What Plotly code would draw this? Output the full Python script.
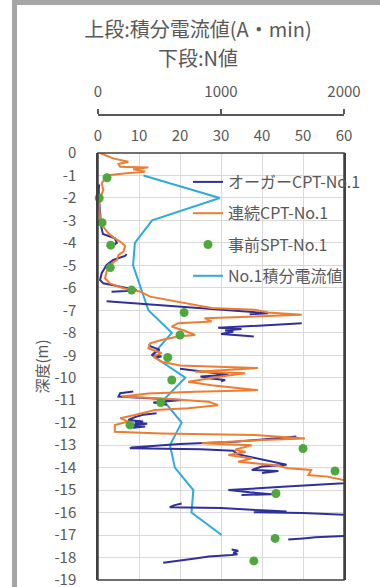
import plotly.graph_objects as go

# ---- data ----
# オーガーCPT-No.1 : depth (m) and N value ; None = gap in the record
auger_depth = [-1.40, -1.60, -2.00, -2.30, -2.90, -3.30, -3.60, -3.80, -4.00, -4.16, None,
               -4.50, -4.58, -4.76, -4.98, -5.35, -5.65, -5.80, -5.94, -6.09, -6.14, -6.17, None,
               -6.60, -6.83, -6.98, -7.13, -7.17, None,
               -7.58, -7.70, -7.78, -7.83, -7.90, -7.95, -8.05, -8.12, -8.17, None,
               -8.50, -8.60, -8.75, -8.84, -8.99, -9.06, -9.10, None,
               -9.60, -9.65, -9.75, -9.87, -9.95, -10.02, -10.10, -10.16, None,
               -10.61, -10.69, -10.84, -10.92, -10.99, -11.10, -11.20, None,
               -11.58, -11.65, -11.75, -11.88, -11.95, -12.00, -12.05, -12.10, -12.17, -12.22, None,
               -12.62, -12.75, -12.85, -12.95, -13.05, -13.10, -13.14, -13.18, -13.25, -13.40,
               -13.56, -13.70, -13.87, -13.95, -14.10, -14.15, -14.24, None,
               -14.55, -14.70, -14.85, -15.00, -15.10, -15.18, -15.22, None,
               -15.60, -15.68, -15.76, -15.80, -15.90, -15.95, -15.98, -16.02, -16.10, -16.20, None,
               -16.95, -17.03, -17.10, -17.15, -17.20, None,
               -17.64, -17.70, -17.78, -17.85, -17.89, -17.95, -18.04, -18.15, -18.23]
auger_n = [0.3, 0.2, 0.2, 0.3, 0.5, 0.8, 1.2, 4.1, 4.6, 3.3, None,
           7.0, 6.6, 3.7, 2.1, 0.9, 0.5, 1.3, 5.4, 9.4, 7.0, 3.3, None,
           2.1, 19.5, 31.8, 41.5, 37.0, None,
           49.7, 36.0, 29.3, 35.0, 31.0, 33.0, 30.0, 35.0, 38.0, None,
           12.5, 12.7, 15.0, 14.3, 13.1, 15.5, 14.0, None,
           20.0, 22.0, 27.0, 31.8, 25.0, 27.0, 31.0, 30.0, None,
           8.6, 5.4, 5.0, 11.9, 20.4, 13.5, 16.8, None,
           14.3, 11.0, 9.0, 7.4, 11.0, 9.0, 12.0, 8.0, 11.5, 8.5, None,
           48.4, 40.0, 33.4, 20.0, 10.0, 8.2, 7.8, 25.0, 33.0, 34.0,
           38.0, 42.0, 46.0, 40.0, 37.5, 44.0, 40.0, None,
           65.0, 59.8, 45.0, 31.8, 37.0, 42.4, 35.0, None,
           20.4, 18.5, 17.5, 30.0, 40.0, 46.0, 38.0, 50.0, 60.0, 70.0, None,
           70.0, 59.8, 53.0, 50.0, 46.4, None,
           32.6, 34.2, 33.0, 34.0, 32.6, 27.0, 23.7, 19.0, 15.9]

# 連続CPT-No.1
cont_depth = [0.0, -0.10, -0.24, -0.39, -0.49, -0.61, -0.64, -0.72, -0.83, -0.90, -0.98,
              -1.13, -1.35, -1.64, -2.02, -2.39, -2.90, -3.28, -3.57, -3.80, -3.94, -4.13,
              -4.39, -4.53, -4.76, -4.98, -5.28, -5.57, -5.80, -6.02, -6.16, -6.39, -6.53,
              -6.68, -6.90, -6.98, -7.10, -7.20, -7.27, -7.35, -7.50, -7.57, -7.73, -7.90,
              -8.10, -8.17, -8.32, -8.47, -8.69, -8.90, -9.06, -9.29, -9.45, -9.50, -9.57,
              -9.73, -9.80, -9.95, -10.18, -10.33, -10.55, -10.62, -10.70, -10.84, -10.92,
              -11.07, -11.22, -11.36, -11.44, -11.66, -11.80, -11.95, -12.10, -12.40, -12.48,
              -12.55, -12.70, -12.77, -12.92, -13.00, -13.20, -13.30, -13.44, -13.59, -13.74,
              -13.90, -13.96, -14.03, -14.10, -14.33, -14.40, -14.55, -14.65]
cont_n = [0.5, 2.0, 3.7, 7.4, 5.0, 5.4, 12.3, 8.6, 11.5, 7.0, 2.9,
          1.7, 0.9, 1.3, 0.5, 0.3, 0.5, 1.3, 2.5, 4.1, 5.4, 6.6,
          6.2, 5.0, 4.6, 2.9, 2.1, 1.7, 2.9, 6.2, 10.2, 12.7, 16.8,
          20.4, 27.7, 38.3, 41.5, 49.7, 37.5, 26.0, 27.7, 19.5, 18.0, 21.0,
          23.7, 19.5, 15.5, 12.7, 12.3, 15.5, 13.5, 15.5, 20.0, 30.0, 39.0,
          23.7, 35.9, 30.0, 22.0, 27.7, 39.0, 23.7, 12.3, 5.8, 15.5,
          27.0, 29.3, 22.0, 13.9, 9.0, 5.4, 7.4, 4.1, 4.1, 15.5,
          38.3, 50.5, 40.0, 25.3, 37.5, 33.4, 36.0, 31.8, 37.5, 34.2,
          44.0, 44.8, 46.4, 52.0, 51.3, 56.0, 59.8, 63.0]

# 事前SPT-No.1
spt_depth = [-1.1, -2.0, -3.1, -4.1, -5.1, -6.1, -7.1, -8.1, -9.1, -10.1, -11.1, -12.1,
             -13.15, -14.15, -15.15, -17.15, -18.15]
spt_n = [2.2, 0.3, 1.0, 3.1, 3.0, 8.2, 21.0, 20.0, 17.0, 18.0, 15.3, 7.8,
         50.0, 57.8, 43.4, 43.2, 38.0]

# No.1積分電流値 (A・min)
cur_depth = [-1, -2, -3, -4, -5, -6, -7, -8, -9, -10, -11, -12, -13, -14, -15, -16, -17]
cur_val = [370, 990, 440, 300, 285, 350, 410, 600, 440, 710, 530, 680, 585, 625, 775, 760, 1005]

y_ticks = list(range(0, -20, -1))
y_labels = [str(v) for v in y_ticks]
n_ticks = [0, 10, 20, 30, 40, 50, 60]
cur_ticks = [0, 1000, 2000]

title_line1 = "上段:積分電流値(A・min)"
title_line2 = "下段:N値"

FONT = "Noto Sans CJK JP, Noto Sans, sans-serif"
GRAY = "#595959"

fig = go.Figure()
fig.add_trace(go.Scatter(x=auger_n, y=auger_depth, mode="lines", name="オーガーCPT-No.1",
                         line=dict(color="#30309a", width=2), xaxis="x2", legendgroup="a"))
fig.add_trace(go.Scatter(x=cont_n, y=cont_depth, mode="lines", name="連続CPT-No.1",
                         line=dict(color="#ed7d31", width=2), xaxis="x2", legendgroup="b"))
fig.add_trace(go.Scatter(x=spt_n, y=spt_depth, mode="markers", name="事前SPT-No.1",
                         marker=dict(color="#4fa83d", size=9), xaxis="x2", legendgroup="c",
                         cliponaxis=False))
fig.add_trace(go.Scatter(x=cur_val, y=cur_depth, mode="lines", name="No.1積分電流値",
                         line=dict(color="#2eaadc", width=2), xaxis="x", legendgroup="d"))

ydom_top = (580 - 153) / 560
cur_axis_pos = (580 - 115) / 560
fig.update_layout(
    width=380, height=587,
    margin=dict(l=98, r=36, t=20, b=7, pad=0, autoexpand=False),
    paper_bgcolor="white", plot_bgcolor="white",
    font=dict(family=FONT, color=GRAY, size=15),
    title=dict(text=title_line1, x=198 / 380, xanchor="center",
               xref="container", yref="container", y=1 - 30 / 587, yanchor="middle",
               font=dict(size=20, color=GRAY, family=FONT)),
    showlegend=True,
    legend=dict(x=(188 - 98) / 246, xanchor="left", y=(580 - 165) / 560, yanchor="top",
                bgcolor="rgba(0,0,0,0)", font=dict(size=16, color=GRAY, family=FONT),
                tracegroupgap=7.5, itemwidth=30),
    # upper scale: integrated current (A・min)
    xaxis=dict(range=[0, 2000], side="top", anchor="free", position=cur_axis_pos,
               tickvals=cur_ticks, showgrid=False, automargin=False,
               zeroline=False, showline=True, linecolor=GRAY, linewidth=1.5,
               ticks="outside", ticklen=5, tickcolor=GRAY, tickwidth=1.5,
               ticklabelstandoff=6, tickfont=dict(size=15, color=GRAY)),
    # lower scale: N value
    xaxis2=dict(range=[0, 60], side="top", overlaying="x", anchor="y", tickvals=n_ticks,
                showgrid=True, gridcolor="#d9d9d9", gridwidth=1, zeroline=False,
                showline=False, ticks="", ticklabelstandoff=8, automargin=False,
                tickfont=dict(size=15, color=GRAY)),
    yaxis=dict(range=[-19, 0], domain=[0, ydom_top], tickvals=y_ticks, ticktext=y_labels,
               showgrid=True, gridcolor="#d9d9d9", gridwidth=1, zeroline=False,
               showline=True, mirror=True, linecolor="#404040", linewidth=1.5,
               ticks="", ticklabelstandoff=17, ticklabeloverflow="allow", automargin=False,
               tickfont=dict(size=15, color=GRAY),
               title=dict(text="深度(m)", standoff=2, font=dict(size=15, color=GRAY))),
)

# second title line
fig.add_annotation(text=title_line2, xref="paper", yref="paper",
                   x=(198 - 98) / 246, y=(580 - 58) / 560, xanchor="center", yanchor="middle",
                   showarrow=False, font=dict(size=20, color=GRAY, family=FONT))

# axis line and tick marks of the upper (current) scale, placed on its own scale
fig.add_shape(type="line", xref="x", yref="paper", x0=cur_ticks[0], x1=cur_ticks[-1],
              y0=cur_axis_pos, y1=cur_axis_pos, line=dict(color=GRAY, width=1.5), layer="above")
for v in cur_ticks:
    fig.add_shape(type="line", xref="x", yref="paper", x0=v, x1=v,
                  y0=cur_axis_pos, y1=cur_axis_pos + 5 / 560,
                  line=dict(color=GRAY, width=1.5), layer="above")

# plot-area border
fig.add_shape(type="rect", xref="paper", yref="paper", x0=0, x1=1, y0=0, y1=ydom_top,
              line=dict(color="#404040", width=1.5), fillcolor="rgba(0,0,0,0)", layer="above")

# grey frame of the original picture (left and top bars)
fig.add_shape(type="rect", xref="paper", yref="paper",
              x0=(12 - 98) / 246, x1=(17 - 98) / 246, y0=(580 - 587) / 560, y1=(580 - 0) / 560,
              fillcolor="#a6a6a6", line=dict(width=0), layer="above")
fig.add_shape(type="rect", xref="paper", yref="paper",
              x0=(12 - 98) / 246, x1=(380 - 98) / 246, y0=(580 - 5) / 560, y1=(580 - 0) / 560,
              fillcolor="#a6a6a6", line=dict(width=0), layer="above")

fig.write_html("out.html", config={"displayModeBar": False},
               post_script="document.body.style.margin='0px';document.body.style.overflow='hidden';")
